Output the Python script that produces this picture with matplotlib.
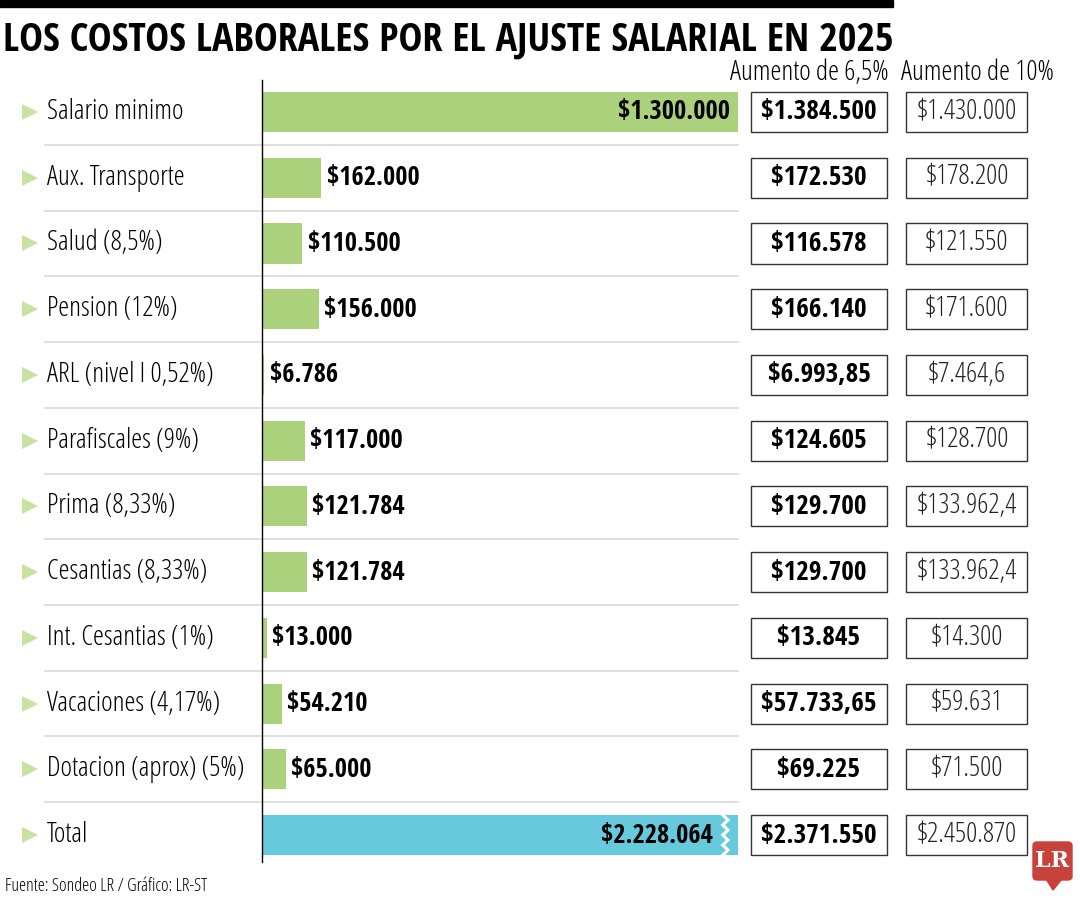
import matplotlib
matplotlib.use("Agg")
import matplotlib.pyplot as plt
from matplotlib import transforms
from matplotlib.patches import Rectangle, FancyBboxPatch, Polygon

categorias = ["Salario minimo", "Aux. Transporte", "Salud (8,5%)", "Pension (12%)",
              "ARL (nivel I 0,52%)", "Parafiscales (9%)", "Prima (8,33%)",
              "Cesantias (8,33%)", "Int. Cesantias (1%)", "Vacaciones (4,17%)",
              "Dotacion (aprox) (5%)", "Total"]
costos = [1300000, 162000, 110500, 156000, 6786, 117000, 121784, 121784,
          13000, 54210, 65000, 2228064]
aumento_65 = ["$1.384.500", "$172.530", "$116.578", "$166.140", "$6.993,85",
              "$124.605", "$129.700", "$129.700", "$13.845", "$57.733,65",
              "$69.225", "$2.371.550"]
aumento_10 = ["$1.430.000", "$178.200", "$121.550", "$171.600", "$7.464,6",
              "$128.700", "$133.962,4", "$133.962,4", "$14.300", "$59.631",
              "$71.500", "$2.450.870"]

VERDE = "#acd17c"
CIAN = "#66c9dc"
NEGRITA = ["Open Sans Condensed", "Roboto Condensed", "DejaVu Sans"]
LIGERA = ["Open Sans", "Roboto Condensed", "DejaVu Sans"]
plt.rcParams["font.family"] = NEGRITA

# texto fino: Open Sans 300 en su version condensada
fino = dict(family=LIGERA, fontweight=300, fontstretch="condensed")


def fmt(v):
    return "$" + f"{v:,}".replace(",", ".")


fig = plt.figure(figsize=(10.8, 9), dpi=100)
W, H = 1080, 900


def fx(px):
    return px / W


def fy(py):
    return 1 - py / H


# barra negra y titulo
fig.patches.append(Rectangle((0, fy(7)), fx(893), 7 / H, transform=fig.transFigure,
                             color="black", zorder=5))
fig.text(fx(3), fy(41), "LOS COSTOS LABORALES POR EL AJUSTE SALARIAL EN 2025",
         fontsize=29, fontweight="bold", va="center", ha="left")

ax = fig.add_axes([fx(262), fy(862), fx(738 - 262), 782 / H])
n = len(categorias)
ax.set_ylim((862 - 112) / 65.73, (80 - 112) / 65.73)
ax.set_xlim(0, costos[0])
for s in ["top", "right", "bottom"]:
    ax.spines[s].set_visible(False)
ax.spines["left"].set_linewidth(1)
ax.set_xticks([])
ax.set_yticks([])

colores = [VERDE] * (n - 1) + [CIAN]
ax.barh(range(n), costos, height=0.61, color=colores, zorder=2)

xmax = ax.get_xlim()[1]
tr = transforms.blended_transform_factory(fig.transFigure, ax.transData)

for i, (cat, v) in enumerate(zip(categorias, costos)):
    # triangulo y categoria
    ax.plot([fx(30)], [i], marker=">", markersize=11, color="#c9e2a2",
            transform=tr, clip_on=False, markeredgewidth=0)
    ax.text(fx(47), i, cat, transform=tr, fontsize=20, va="center", ha="left", **fino)
    # valor
    if v > xmax:
        ax.text(xmax * 0.948, i, fmt(v), fontsize=19,
                fontweight="bold", va="center", ha="right", zorder=4)
    elif v >= xmax * 0.5:
        ax.text(v - xmax * 0.017, i, fmt(v), fontsize=19,
                fontweight="bold", va="center", ha="right", zorder=4)
    else:
        ax.text(v + xmax * 0.011, i, fmt(v), fontsize=19, fontweight="bold",
                va="center", ha="left", zorder=4)
    # separadores
    if i < n - 1:
        ax.plot([fx(45), fx(738)], [i + 0.5, i + 0.5], color="#d9d9d9", lw=1.2,
                transform=tr, clip_on=False, zorder=1)
    # cajas
    ax.add_patch(Rectangle((fx(751), i - 0.305), fx(887 - 751), 0.61, transform=tr,
                           fill=False, edgecolor="#333333", lw=1, clip_on=False))
    ax.add_patch(Rectangle((fx(906), i - 0.305), fx(1027 - 906), 0.61, transform=tr,
                           fill=False, edgecolor="#333333", lw=1, clip_on=False))
    ax.text(fx(819), i, aumento_65[i], transform=tr, fontsize=19.5, fontweight="bold",
            va="center", ha="center")
    ax.text(fx(967), i, aumento_10[i], transform=tr, fontsize=20,
            va="center", ha="center", color="#222222", **fino)

# corte en zigzag de la barra total
it = n - 1
zx = xmax * 0.968
amp = xmax * 0.011
zz_x = [zx + (amp if k % 2 else 0) for k in range(9)]
zz_y = [it - 0.305 + k * 0.61 / 8 for k in range(9)]
ax.plot(zz_x, zz_y, color="white", lw=2.2, zorder=3, solid_joinstyle="miter")

# encabezados
fig.text(fx(809), fy(73), "Aumento de 6,5%", fontsize=20, ha="center", va="center", **fino)
fig.text(fx(977), fy(73), "Aumento de 10%", fontsize=20, ha="center", va="center", **fino)

# fuente
fig.text(fx(5), fy(886), "Fuente: Sondeo LR / Gráfico: LR-ST", fontsize=13,
         ha="left", va="center", **fino)

# logo LR
rojo = "#c8413b"
fig.patches.append(FancyBboxPatch((fx(1033), fy(880)), fx(39), 38 / H,
                                  boxstyle="round,pad=0,rounding_size=0.004",
                                  transform=fig.transFigure, color=rojo))
fig.patches.append(Polygon([(fx(1046), fy(879)), (fx(1062), fy(879)), (fx(1053), fy(890))],
                           closed=True, transform=fig.transFigure, color=rojo))
fig.text(fx(1052.5), fy(861), "LR", fontsize=16, fontweight="bold", color="white",
         family="DejaVu Serif", ha="center", va="center")

fig.savefig("out.png", dpi=100)
